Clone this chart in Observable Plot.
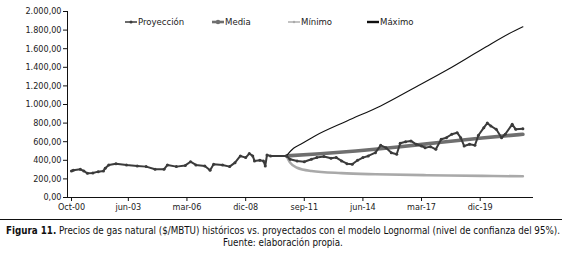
<!DOCTYPE html>
<html>
<head>
<meta charset="utf-8">
<script src="https://cdn.jsdelivr.net/npm/d3@7"></script>
<script src="https://cdn.jsdelivr.net/npm/@observablehq/plot@0.6"></script>
<style>
  html, body { margin: 0; padding: 0; background: #fff; }
  body { width: 566px; height: 257px; position: relative; overflow: hidden;
         font-family: "Liberation Sans Narrow", "DejaVu Sans Condensed", "Roboto", sans-serif; }
  #legend { position: absolute; top: 16px; left: 0; width: 566px; height: 14px; font-size: 9.5px; color: #222; }
  #legend .item { position: absolute; top: 0; display: flex; align-items: center; white-space: nowrap; }
  #legend svg { display: block; margin-right: 1px; }
  #rule { position: absolute; left: 0; top: 219px; width: 562px; height: 0; border-top: 1.5px solid #111; }
  .cap { position: absolute; white-space: nowrap; font-size: 10.5px; line-height: 11px; color: #111; transform-origin: 0 0; }
  .cap b { font-weight: bold; }
</style>
</head>
<body>
<div id="chart"></div>
<div id="legend"></div>
<div id="rule"></div>
<span class="cap" id="cap1" style="top:225px;left:0"><b>Figura 11.</b> Precios de gas natural ($/MBTU) históricos vs. proyectados con el modelo Lognormal (nivel de confianza del 95%).</span>
<span class="cap" id="cap2" style="top:237px;left:0">Fuente: elaboración propia.</span>
<script>
// ---- Data ----
const proyeccionDates = [
  "2000-10","2000-11","2001-03","2001-05","2001-07","2001-10","2002-01","2002-04","2002-05","2002-07","2002-11",
  "2003-05","2003-11","2004-04","2004-09","2005-02","2005-04","2005-09","2006-02","2006-05","2006-08","2007-01",
  "2007-04","2007-06","2007-11","2008-03","2008-06","2008-09","2008-12","2009-02","2009-04","2009-05","2009-08",
  "2009-10","2009-11","2009-12","2010-02","2010-11",
  "2011-01","2011-05","2011-09","2012-01","2012-04","2012-08","2012-12","2013-03","2013-06","2013-09","2013-12",
  "2014-03","2014-06","2014-09","2015-01","2015-04","2015-07","2015-10","2016-01","2016-03","2016-06","2016-09",
  "2016-12","2017-03","2017-05","2017-08","2017-11","2018-02","2018-05","2018-08","2018-11","2019-01","2019-03",
  "2019-06","2019-09","2019-11","2020-02","2020-04","2020-06","2020-09","2020-12","2021-02","2021-06","2021-08","2021-12"
];
const proyeccionValues = [
  285,293,303,285,260,263,278,285,314,350,364,
  350,339,332,303,303,350,332,345,385,350,339,
  293,357,350,332,375,447,429,472,447,393,400,
  393,339,457,447,447,
  411,393,385,411,429,440,422,429,393,364,357,
  400,429,447,482,561,536,482,465,583,600,608,
  572,554,536,547,518,626,643,680,697,643,554,
  572,561,669,751,800,769,733,643,680,787,733,740
];
const mediaDates  = ["2010-11","2012-06","2014-02","2016-03","2018-02","2020-01","2021-12"];
const mediaValues = [447, 470, 500, 545, 595, 640, 680];
const minimoDates  = ["2010-11","2011-01","2011-05","2012-01","2013-06","2015-01","2017-06","2020-01","2021-12"];
const minimoValues = [447, 375, 320, 285, 262, 250, 240, 232, 228];
const maximoDates  = ["2010-11","2011-03","2011-07","2012-03","2013-09","2015-04","2016-11","2018-06","2020-01","2021-08","2021-12"];
const maximoValues = [450, 530, 573, 662, 823, 985, 1181, 1379, 1594, 1799, 1835];

const xTickDates  = ["2000-10","2003-06","2006-03","2008-12","2011-09","2014-06","2017-03","2019-12"];
const xTickLabels = ["Oct-00","jun-03","mar-06","dic-08","sep-11","jun-14","mar-17","dic-19"];
const yTicks = [0,200,400,600,800,1000,1200,1400,1600,1800,2000];

const seriesNames  = ["Proyección","Media","Mínimo","Máximo"];
const seriesColors = ["#3b3b3b","#6f6f6f","#a9a9a9","#111111"];

// ---- Build tables ----
const parse = d3.utcParse("%Y-%m");
const mk = (ds, vs) => ds.map((d, i) => ({date: parse(d), value: vs[i]}));
const proy = mk(proyeccionDates, proyeccionValues);
const media = mk(mediaDates, mediaValues);
const minimo = mk(minimoDates, minimoValues);
const maximo = mk(maximoDates, maximoValues);
const tickDates = xTickDates.map(parse);
const labelOf = new Map(tickDates.map((d, i) => [+d, xTickLabels[i]]));
const fmtY = v => d3.formatLocale({decimal: ",", thousands: ".", grouping: [3], currency: ["", ""]}).format(",.2f")(v);

const x0 = new Date(Date.UTC(2000, 6, 24));
const x1 = new Date(Date.UTC(2022, 5, 1));

const chart = Plot.plot({
  width: 566,
  height: 216,
  marginLeft: 67,
  marginRight: 33,
  marginTop: 11,
  marginBottom: 19,
  style: {fontFamily: '"Liberation Sans Narrow", "DejaVu Sans Condensed", Roboto, sans-serif', fontSize: "9px", color: "#222", background: "#fff"},
  x: {type: "utc", domain: [x0, x1], label: null},
  y: {domain: [0, 2000], label: null},
  marks: [
    Plot.axisX({ticks: tickDates, tickFormat: d => labelOf.get(+d), tickSize: 4, tickPadding: 2, stroke: "#111", fill: "#222", fontSize: 9}),
    Plot.axisY({ticks: yTicks, tickFormat: fmtY, tickSize: 4, tickPadding: 2, stroke: "#111", fill: "#222", fontSize: 9}),
    Plot.ruleX([x0], {stroke: "#111", strokeWidth: 1}),
    Plot.ruleY([0], {stroke: "#111", strokeWidth: 1}),
    Plot.line(minimo, {x: "date", y: "value", stroke: seriesColors[2], strokeWidth: 2.6, curve: "monotone-x"}),
    Plot.line(media, {x: "date", y: "value", stroke: seriesColors[1], strokeWidth: 3.6, curve: "monotone-x"}),
    Plot.line(maximo, {x: "date", y: "value", stroke: seriesColors[3], strokeWidth: 1.1, curve: "monotone-x"}),
    Plot.line(proy, {x: "date", y: "value", stroke: seriesColors[0], strokeWidth: 2}),
    Plot.dot(proy, {x: "date", y: "value", r: 1.5, fill: seriesColors[0], stroke: "none"})
  ]
});
document.getElementById("chart").appendChild(chart);

// ---- Legend ----
const legendLeft = [125, 212, 288, 367];
const legend = document.getElementById("legend");
seriesNames.forEach((name, i) => {
  const item = document.createElement("div");
  item.className = "item";
  item.style.left = legendLeft[i] + "px";
  const w = 12;
  const sw = [1.5, 2.6, 1.4, 2.4][i];
  const dot = [true, true, true, false][i];
  const r = [1.5, 2.2, 1.2, 0][i];
  item.innerHTML = `<svg width="${w}" height="10"><line x1="0" x2="${w}" y1="5" y2="5" stroke="${seriesColors[i]}" stroke-width="${sw}"/>${dot ? `<circle cx="${w/2}" cy="5" r="${r}" fill="${seriesColors[i]}"/>` : ""}</svg><span>${name}</span>`;
  legend.appendChild(item);
});

// ---- Fit caption lines to the reference width (condensed look) ----
const cap1 = document.getElementById("cap1");
const cap2 = document.getElementById("cap2");
const w1 = cap1.getBoundingClientRect().width;
const w2 = cap2.getBoundingClientRect().width;
const s = Math.min(1, 554 / w1);
cap1.style.left = ((566 - w1 * s) / 2) + "px";
cap1.style.transform = `scaleX(${s})`;
cap2.style.left = ((566 - w2 * s) / 2) + "px";
cap2.style.transform = `scaleX(${s})`;
</script>
</body>
</html>
